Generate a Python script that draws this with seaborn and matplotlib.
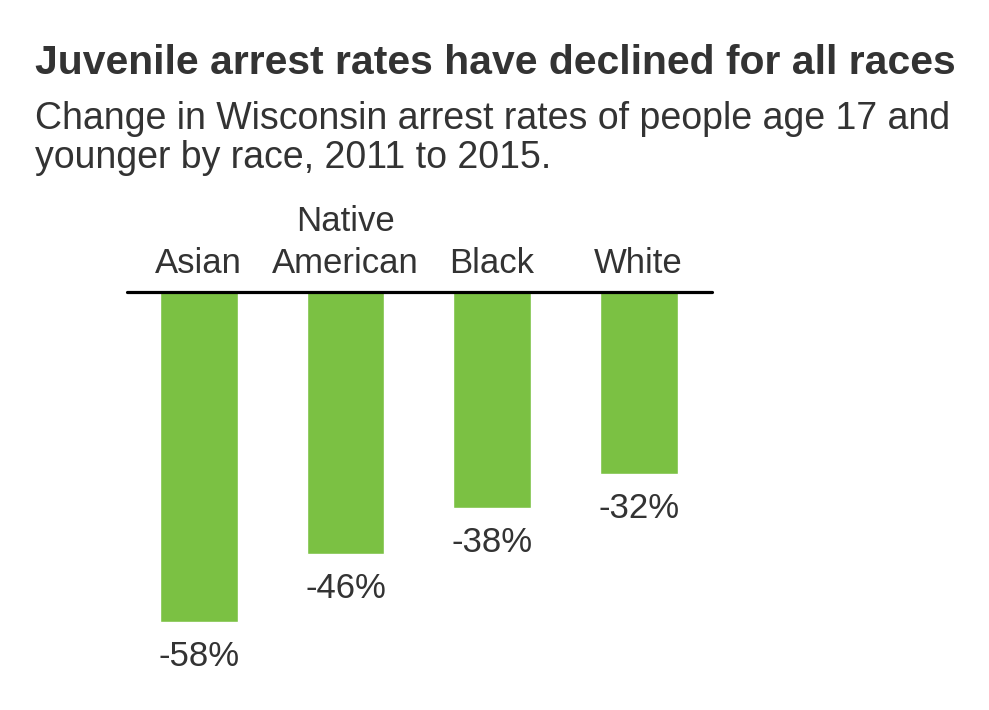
import matplotlib
matplotlib.use("Agg")
import matplotlib.pyplot as plt
import seaborn as sns
import pandas as pd

races = ["Asian", "Native\nAmerican", "Black", "White"]
change = [-58, -46, -38, -32]
value_labels = ["-58%", "-46%", "-38%", "-32%"]

sns.set_style("white")
# no narrow font installed, so Liberation Sans sized to match the widths
plt.rcParams['font.family'] = ['Liberation Sans', 'DejaVu Sans']

text_color = "#333333"
bar_color = "#7bc143"

df = pd.DataFrame({"race": races, "change": change})

fig = plt.figure(figsize=(9.89, 7.10), dpi=100)
ax = fig.add_axes([0.1284, 0.0141, 0.5915, 0.5746])

sns.barplot(data=df, x="race", y="change", color=bar_color, width=0.53,
            saturation=1, ax=ax)

ax.set_xlim(-0.49, 3.50)
ax.set_ylim(-71.7, 0)
ax.axhline(0, color="black", lw=2.3, clip_on=False, zorder=5)

for i, (v, lab) in enumerate(zip(change, value_labels)):
    ax.annotate(lab, xy=(i, v), xytext=(0, -13), textcoords="offset points",
                ha="center", va="top", fontsize=25, color=text_color,
                annotation_clip=False)

for i, name in enumerate(races):
    ax.annotate(name, xy=(i, 0), xytext=(0, 9), textcoords="offset points",
                ha="center", va="bottom", fontsize=25, color=text_color,
                linespacing=1.33, annotation_clip=False)

ax.set_xticks([])
ax.set_yticks([])
ax.set_xlabel("")
ax.set_ylabel("")
sns.despine(ax=ax, left=True, bottom=True)

fig.text(35 / 989, 1 - 74 / 710, "Juvenile arrest rates have declined for all races",
         fontsize=29.4, fontweight="bold", color=text_color, va="baseline")
# va="baseline" on two lines puts the last line on the anchor
fig.text(35 / 989, 1 - 168 / 710, "Change in Wisconsin arrest rates of people age 17 and\nyounger by race, 2011 to 2015.",
         fontsize=27, color=text_color, va="baseline", linespacing=1.11)

fig.savefig("out.png", dpi=100)
